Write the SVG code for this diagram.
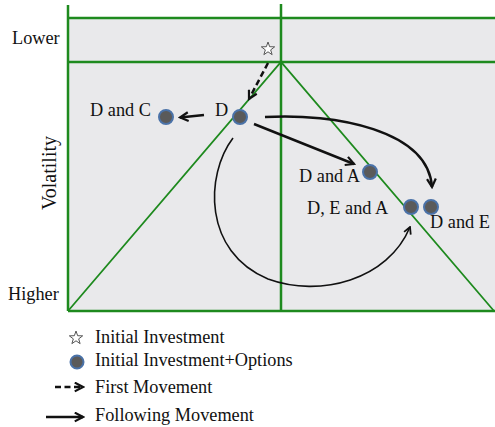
<svg xmlns="http://www.w3.org/2000/svg" width="495" height="427" viewBox="0 0 495 427">
<defs>
<style>
.t{font-family:"Liberation Serif","Times New Roman",serif;font-size:18.3px;fill:#111}
.g{stroke:#1e8a1e;fill:none}
.node{fill:#5a5a5a;stroke:#4a72a8;stroke-width:2}
.mv{stroke:#111;fill:none;stroke-width:2.5}
</style>
<marker id="ah" viewBox="0 0 10 10" refX="8.5" refY="5" markerWidth="11" markerHeight="11" markerUnits="userSpaceOnUse" orient="auto">
<path d="M1,1 L8.5,5 L1,9" fill="none" stroke="#111" stroke-width="2"/>
</marker>
<marker id="ahs" viewBox="0 0 10 10" refX="8.5" refY="5" markerWidth="9" markerHeight="9" markerUnits="userSpaceOnUse" orient="auto">
<path d="M1,1 L8.5,5 L1,9" fill="none" stroke="#111" stroke-width="2"/>
</marker>
<path id="star" d="M0,-7 L1.65,-2.27 L6.66,-2.16 L2.67,0.87 L4.11,5.66 L0,2.8 L-4.11,5.66 L-2.67,0.87 L-6.66,-2.16 L-1.65,-2.27 Z" fill="#fff" stroke="#555" stroke-width="1"/>
</defs>
<rect x="0" y="0" width="495" height="427" fill="#fff"/>
<g id="chart">
<rect x="68" y="18" width="427" height="293" fill="#e9e9eb"/>
<line class="g" x1="68" y1="5" x2="68" y2="311" stroke-width="2.5"/>
<line class="g" x1="281" y1="4" x2="281" y2="311" stroke-width="2.5"/>
<line class="g" x1="68" y1="18" x2="495" y2="18" stroke-width="2.5"/>
<line class="g" x1="68" y1="62" x2="495" y2="62" stroke-width="2.5"/>
<line class="g" x1="68" y1="311" x2="495" y2="311" stroke-width="2.5"/>
<polyline class="g" points="68,311 281,62 494,311" stroke-width="1.8"/>
<text class="t" x="12" y="44">Lower</text>
<text class="t" x="8" y="300">Higher</text>
<text class="t" x="0" y="0" transform="translate(56,173) rotate(-90)" text-anchor="middle" style="font-size:20px">Volatility</text>
</g>
<g id="connectors">
<path class="mv" d="M268,63 L249,99" stroke-dasharray="6,3.5" marker-end="url(#ah)"/>
<path class="mv" d="M204,115 L180,117.5" marker-end="url(#ah)"/>
<path class="mv" d="M254,124 L354,164" marker-end="url(#ah)"/>
<path class="mv" d="M265,117 C335,113 428,130 432,187" marker-end="url(#ah)"/>
<path d="M233,138 C205,175 203,252 268,279 C320,298 388,280 410,227" fill="none" stroke="#111" stroke-width="1.6" marker-end="url(#ahs)"/>
</g>
<g id="initial"><use href="#star" x="268" y="49"/></g>
<g id="D"><circle class="node" cx="240" cy="117" r="7"/><text class="t" x="215" y="116">D</text></g>
<g id="DC"><circle class="node" cx="166" cy="117" r="7"/><text class="t" x="90" y="116">D and C</text></g>
<g id="DA"><circle class="node" cx="370" cy="172" r="7"/><text class="t" x="299" y="182">D and A</text></g>
<g id="DEA"><circle class="node" cx="411" cy="207" r="7"/><text class="t" x="307" y="214">D, E and A</text></g>
<g id="DE"><circle class="node" cx="431" cy="207" r="7"/><text class="t" x="430" y="228">D and E</text></g>
<g id="legend">
<use href="#star" x="76" y="338"/>
<text class="t" x="95" y="343">Initial Investment</text>
<circle class="node" cx="77" cy="362" r="6.5"/>
<text class="t" x="95" y="366">Initial Investment+Options</text>
<path class="mv" d="M55,387 L83,387" stroke-dasharray="6,3.5" marker-end="url(#ah)"/>
<text class="t" x="95" y="393">First Movement</text>
<path class="mv" d="M46,417 L83,417" marker-end="url(#ah)"/>
<text class="t" x="95" y="421">Following Movement</text>
</g>
</svg>
